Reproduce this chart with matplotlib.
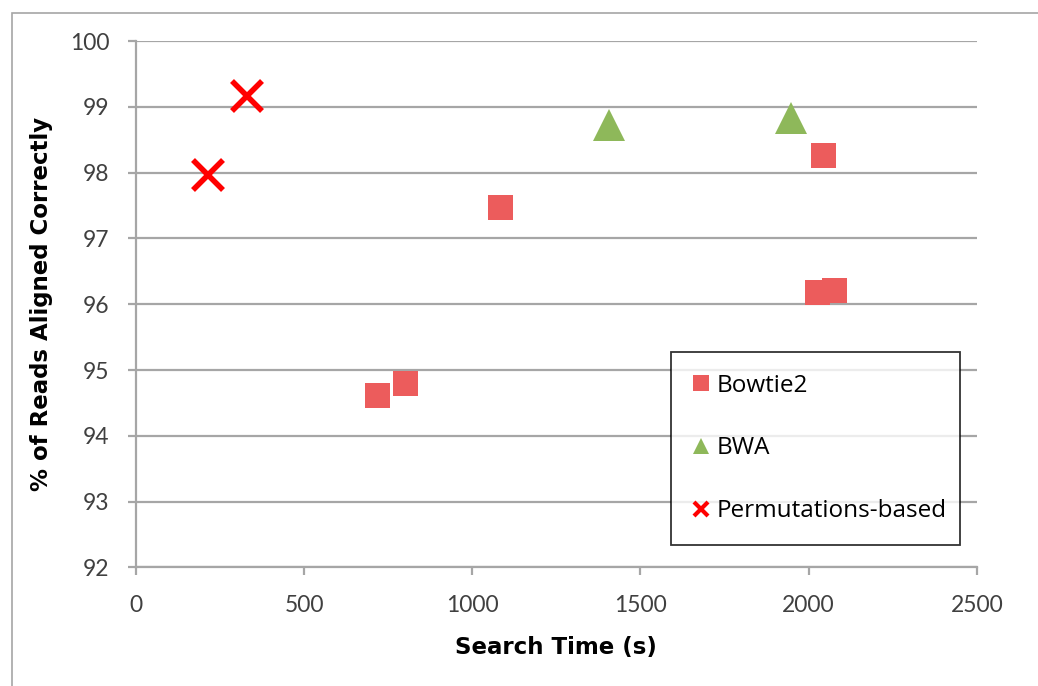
import matplotlib.pyplot as plt
import matplotlib.patches as patches

# data
bowtie_time = [716, 800, 1082, 2042, 2024, 2075]
bowtie_pct = [94.62, 94.81, 97.48, 98.27, 96.18, 96.21]

bwa_time = [1406, 1947]
bwa_pct = [98.72, 98.83]

perm_time = [215, 330]
perm_pct = [97.96, 99.16]

x_ticks = [0, 500, 1000, 1500, 2000, 2500]
y_ticks = [92, 93, 94, 95, 96, 97, 98, 99, 100]

fig = plt.figure(figsize=(10.38, 6.86), dpi=100)
ax = fig.add_axes([0.131, 0.173, 0.81, 0.767])

# thin grey frame round the picture
fig.patches.append(patches.Rectangle((12 / 1038, -0.01), 1.02, 1 - 13 / 686 + 0.01,
                                     transform=fig.transFigure, fill=False,
                                     edgecolor='#a6a6a6', linewidth=1.2))

ax.plot(bowtie_time, bowtie_pct, 's', color='#ec5c5c', markersize=18,
        markeredgewidth=0, label='Bowtie2', zorder=3)
ax.plot(bwa_time, bwa_pct, '^', color='#8eb85a', markersize=23,
        markeredgewidth=0, label='BWA', zorder=3)
ax.plot(perm_time, perm_pct, 'x', color='#ff0000', markersize=21,
        markeredgewidth=4, label='Permutations-based', zorder=3)

ax.set_xlim(0, 2500)
ax.set_ylim(92, 100)
ax.set_xticks(x_ticks)
ax.set_yticks(y_ticks)
ax.grid(axis='y', color='#a6a6a6', linewidth=1.6)
ax.set_axisbelow(True)

for side in ['top', 'right']:
    ax.spines[side].set_visible(False)
for side in ['left', 'bottom']:
    ax.spines[side].set_color('#a6a6a6')
    ax.spines[side].set_linewidth(1.6)

ax.tick_params(axis='both', colors='#a6a6a6', width=1.6, length=6,
               labelcolor='#404040', labelsize=16.5)
for lab in ax.get_xticklabels() + ax.get_yticklabels():
    lab.set_family(['Lato', 'DejaVu Sans'])
ax.tick_params(axis='x', pad=14)
ax.tick_params(axis='y', pad=13)

ax.set_xlabel('Search Time (s)', fontsize=16.5, fontweight='bold', labelpad=14)
ax.set_ylabel('% of Reads Aligned Correctly', fontsize=16.5, fontweight='bold', labelpad=12)

leg = ax.legend(loc='lower left', bbox_to_anchor=(0.636, 0.042, 0.344, 0.363),
                mode='expand', frameon=True, fancybox=False, edgecolor='black',
                labelspacing=1.6, handlelength=0.7,
                handletextpad=0.3, borderpad=0.9, borderaxespad=0,
                prop={'family': ['Open Sans', 'DejaVu Sans'], 'size': 17.5})
leg.get_frame().set_linewidth(1.3)
for h in leg.legend_handles:
    h.set_markersize(12)
leg.legend_handles[2].set_markeredgewidth(3)
leg.legend_handles[2].set_markersize(10)

fig.savefig('out.png', dpi=100)
